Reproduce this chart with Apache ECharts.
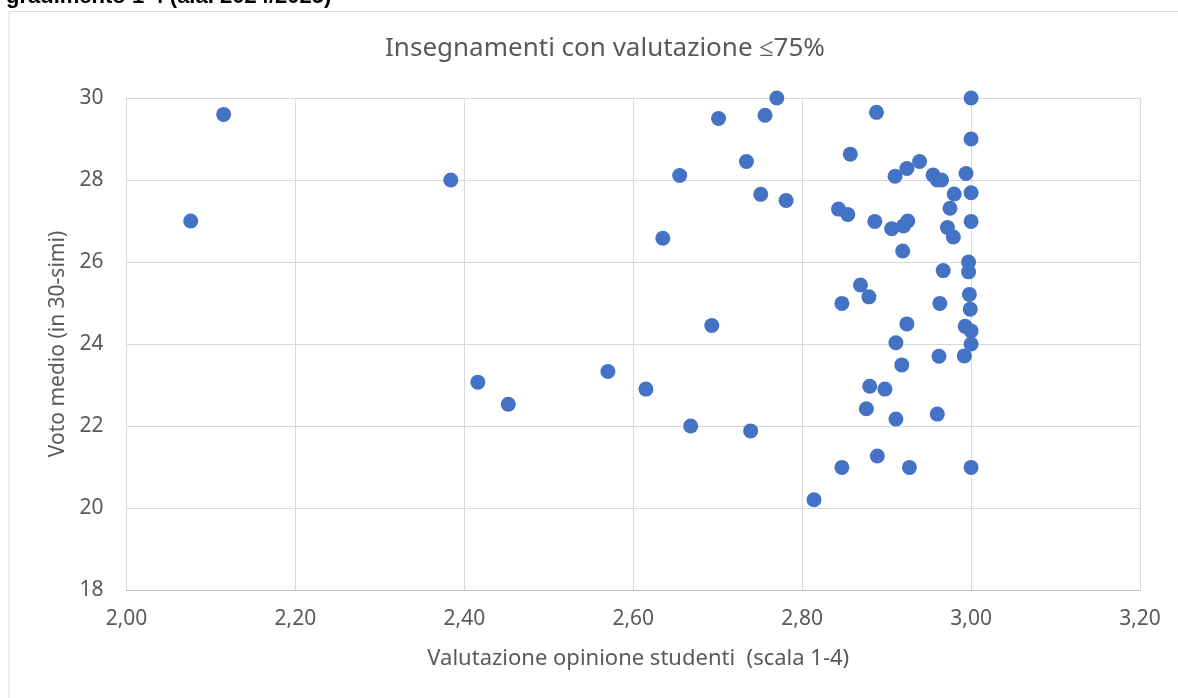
<!DOCTYPE html>
<html>
<head>
<meta charset="utf-8">
<title>Insegnamenti con valutazione ≤75%</title>
<script src="https://cdn.jsdelivr.net/npm/echarts@6/dist/echarts.min.js"></script>
<style>
  html, body { margin: 0; padding: 0; background: #fff; }
  #chart { width: 1178px; height: 698px; }
</style>
</head>
<body>
<div id="chart"></div>
<script>
// valutazione studenti (scala 1-4)
const valutazione = [
  2.076, 2.115, 2.384, 2.416, 2.452, 2.570, 2.615, 2.635, 2.655, 2.668,
  2.693, 2.701, 2.734, 2.739, 2.751, 2.756, 2.770, 2.781, 2.814,
  2.843, 2.847, 2.847, 2.854, 2.857, 2.869, 2.876, 2.879, 2.880, 2.886,
  2.888, 2.889, 2.898, 2.906, 2.910, 2.911, 2.911, 2.918, 2.919, 2.920,
  2.924, 2.924, 2.925, 2.927, 2.939, 2.955, 2.960, 2.960, 2.962, 2.963,
  2.965, 2.967, 2.972, 2.975, 2.979, 2.980, 2.992, 2.993, 2.994, 2.997,
  2.997, 2.998, 2.999, 3.000, 3.000, 3.000, 3.000, 3.000, 3.000, 3.000
];
// voto medio (in 30-simi)
const votoMedio = [
  27.00, 29.60, 28.00, 23.07, 22.53, 23.33, 22.90, 26.58, 28.11, 22.00,
  24.45, 29.50, 28.45, 21.88, 27.65, 29.58, 30.00, 27.50, 20.20,
  27.29, 24.99, 20.99, 27.16, 28.63, 25.44, 22.42, 25.15, 22.97, 26.99,
  29.65, 21.27, 22.90, 26.81, 28.09, 24.03, 22.17, 23.49, 26.27, 26.88,
  28.28, 24.49, 27.00, 20.99, 28.45, 28.12, 28.00, 22.29, 23.70, 24.99,
  28.00, 25.79, 26.84, 27.31, 26.61, 27.66, 23.71, 24.43, 28.16, 26.00,
  25.76, 25.21, 24.85, 30.00, 29.00, 27.69, 26.99, 24.32, 24.00, 20.99
];
const xTicks = { min: 2.0, max: 3.2, step: 0.2 };
const yTicks = { min: 18, max: 30, step: 2 };

const punti = valutazione.map((v, i) => [v, votoMedio[i]]);

const chart = echarts.init(document.getElementById('chart'));
const testo = '#595959';
const griglia = '#d9d9d9';

chart.setOption({
  animation: false,
  textStyle: { fontFamily: 'Noto Sans' },
  title: {
    text: 'Insegnamenti con valutazione ≤75%',
    left: 600,
    textAlign: 'center',
    top: 31,
    textStyle: { fontFamily: 'Noto Sans', fontSize: 26, fontWeight: 'normal', color: testo }
  },
  graphic: [
    {
      type: 'rect',
      shape: { x: 9, y: 11.5, width: 1200, height: 720 },
      style: { fill: 'none', stroke: griglia, lineWidth: 1 }
    },
    {
      // intestazione tagliata dal bordo superiore
      type: 'text',
      x: 6,
      y: -14,
      style: {
        text: 'gradimento 1-4 (a.a. 2024/2025)',
        font: 'bold 22px "Liberation Sans", Arial, sans-serif',
        fill: '#000'
      }
    }
  ],
  grid: { left: 126.5, right: 38, top: 98, bottom: 108 },
  xAxis: {
    type: 'value',
    min: xTicks.min,
    max: xTicks.max,
    interval: xTicks.step,
    name: 'Valutazione opinione studenti  (scala 1-4)',
    nameLocation: 'middle',
    nameGap: 58,
    nameTextStyle: { fontSize: 22, color: testo, fontFamily: 'Noto Sans', padding: [0, 0, 0, 10] },
    axisLine: { show: true, lineStyle: { color: '#bfbfbf', width: 1 } },
    axisTick: { show: false },
    axisLabel: {
      fontSize: 21, color: testo, margin: 19,
      formatter: v => v.toFixed(2).replace('.', ',')
    },
    splitLine: { show: true, lineStyle: { color: griglia, width: 1 } }
  },
  yAxis: {
    type: 'value',
    min: yTicks.min,
    max: yTicks.max,
    interval: yTicks.step,
    name: 'Voto medio (in 30-simi)',
    nameLocation: 'middle',
    nameGap: 58,
    nameTextStyle: { fontSize: 21, color: testo, fontFamily: 'Noto Sans' },
    axisLine: { show: true, lineStyle: { color: griglia, width: 1 } },
    axisTick: { show: false },
    axisLabel: { fontSize: 21, color: testo, margin: 23 },
    splitLine: { show: true, lineStyle: { color: griglia, width: 1 } }
  },
  series: [{
    type: 'scatter',
    data: punti,
    symbol: 'circle',
    symbolSize: 15,
    itemStyle: { color: '#4472C4', opacity: 1 }
  }]
});
</script>
</body>
</html>
